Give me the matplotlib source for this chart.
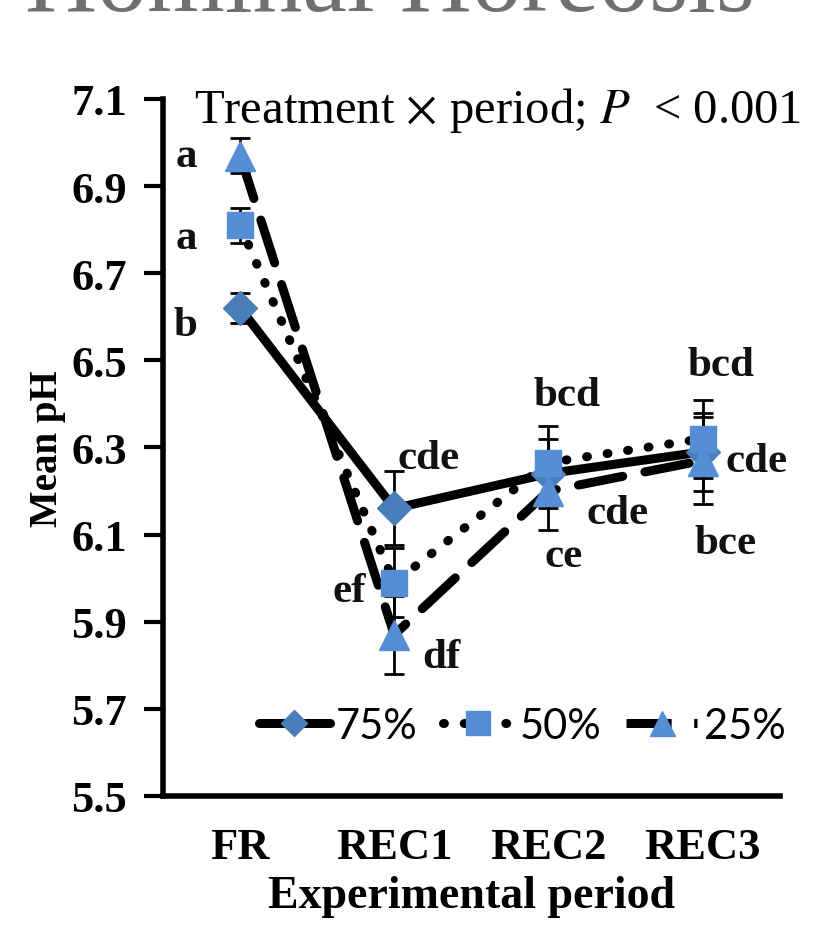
import numpy as np
import matplotlib.pyplot as plt
from matplotlib.lines import Line2D

# Mean faecal pH per treatment across experimental periods
periods = ["FR", "REC1", "REC2", "REC3"]
ph_75 = [6.62, 6.16, 6.24, 6.29]
ph_50 = [6.81, 5.99, 6.265, 6.32]
ph_25 = [6.97, 5.87, 6.20, 6.27]
err_75 = [0.035, 0.085, 0.08, 0.09]
err_50 = [0.04, 0.08, 0.085, 0.09]
err_25 = [0.04, 0.09, 0.09, 0.10]

# significance letters: (period index, y value, text, ha, x offset)
letters = [
    (0, 6.97, "a", "right", -0.28),
    (0, 6.78, "a", "right", -0.28),
    (0, 6.58, "b", "right", -0.28),
    (1, 6.275, "cde", "left", 0.02),
    (1, 5.97, "ef", "right", -0.18),
    (1, 5.82, "df", "left", 0.18),
    (2, 6.42, "bcd", "center", 0.12),
    (2, 6.15, "cde", "left", 0.25),
    (2, 6.05, "ce", "center", 0.1),
    (3, 6.49, "bcd", "center", 0.12),
    (3, 6.27, "cde", "left", 0.15),
    (3, 6.08, "bce", "center", 0.15),
]

serif = "Liberation Serif"
blue_d = "#4a7ebb"
blue = "#558ed5"

fig = plt.figure(figsize=(8.25, 9.28), dpi=100)
ax = fig.add_axes([0.1976, 0.1412, 0.7474, 0.7511])

x = np.arange(len(periods))
series = [
    (ph_75, err_75, "-", "D", blue_d, 17, "75%", None),
    (ph_50, err_50, ":", "s", blue, 19, "50%", None),
    (ph_25, err_25, "--", "^", blue, 21, "25%", (5, 2.5)),
]
for y, e, ls, mk, col, ms, lab, dash in series:
    ax.errorbar(x, y, yerr=e, fmt="none", ecolor="black", elinewidth=2,
                capsize=7, capthick=2, zorder=2)
    line, = ax.plot(x, y, color="black", lw=6.5, ls=ls, zorder=3,
                    dash_capstyle="round", solid_capstyle="round")
    if dash is not None:
        line.set_dashes(dash)
    if ls == ":":
        line.set_dashes((0.1, 2.2))
        line.set_dash_capstyle("round")
    ax.plot(x, y, ls="none", marker=mk, ms=ms, color=col, mec=col, zorder=4)

for i, yv, txt, ha, dx in letters:
    ax.text(i + dx, yv, txt, ha=ha, va="center", fontsize=31,
            family=serif, fontweight="bold", color="#111111")

ax.set_xlim(-0.5, 3.5)
ax.set_ylim(5.5, 7.1)
ax.set_yticks(np.arange(5.5, 7.11, 0.2))
ax.set_yticklabels([f"{v:.1f}" for v in np.arange(5.5, 7.11, 0.2)])
ax.set_xticks(x)
ax.set_xticklabels(periods)
for spine in ["top", "right"]:
    ax.spines[spine].set_visible(False)
ax.spines["left"].set_linewidth(4)
ax.spines["bottom"].set_linewidth(4)
ax.tick_params(axis="y", direction="out", length=14, width=3, pad=12)
ax.tick_params(axis="x", length=0, pad=22)
for t in ax.get_yticklabels() + ax.get_xticklabels():
    t.set_family(serif)
    t.set_fontweight("bold")
    t.set_fontsize(32)

ax.set_ylabel("Mean pH", family=serif, fontweight="bold", fontsize=28, labelpad=4)
ax.set_xlabel("Experimental period", family=serif, fontweight="bold", fontsize=33, labelpad=6)

ax.text(0.05, 0.985, r"Treatment $\times$ period; $P$  < 0.001",
        transform=ax.transAxes, ha="left", va="center", fontsize=35,
        family=serif, math_fontfamily="stix")

# legend with line handles and markers
handles = [
    Line2D([], [], color="black", lw=6.5, ls="-", marker="D", ms=13,
           mfc=blue_d, mec=blue_d, solid_capstyle="round"),
    Line2D([], [], color="black", lw=6.5, ls=(0, (0.1, 2.2)), marker="s", ms=17,
           mfc=blue, mec=blue, dash_capstyle="round"),
    Line2D([], [], color="black", lw=6.5, ls=(0, (5, 2.5)), marker="^", ms=18,
           mfc=blue, mec=blue),
]
ax.legend(handles, ["75%", "50%", "25%"], loc="lower right",
          bbox_to_anchor=(1.07, 0.02), ncol=3, frameon=False, handlelength=1.7,
          columnspacing=0.6, handletextpad=0.15, prop={"family": "Lato", "size": 30})

# heading above the figure, mostly outside the canvas
fig.text(0.03, 0.988, "Hominal Horeosis", ha="left", va="baseline",
         fontsize=72, family=serif, color="#707070")

fig.savefig("out.png", dpi=100)
